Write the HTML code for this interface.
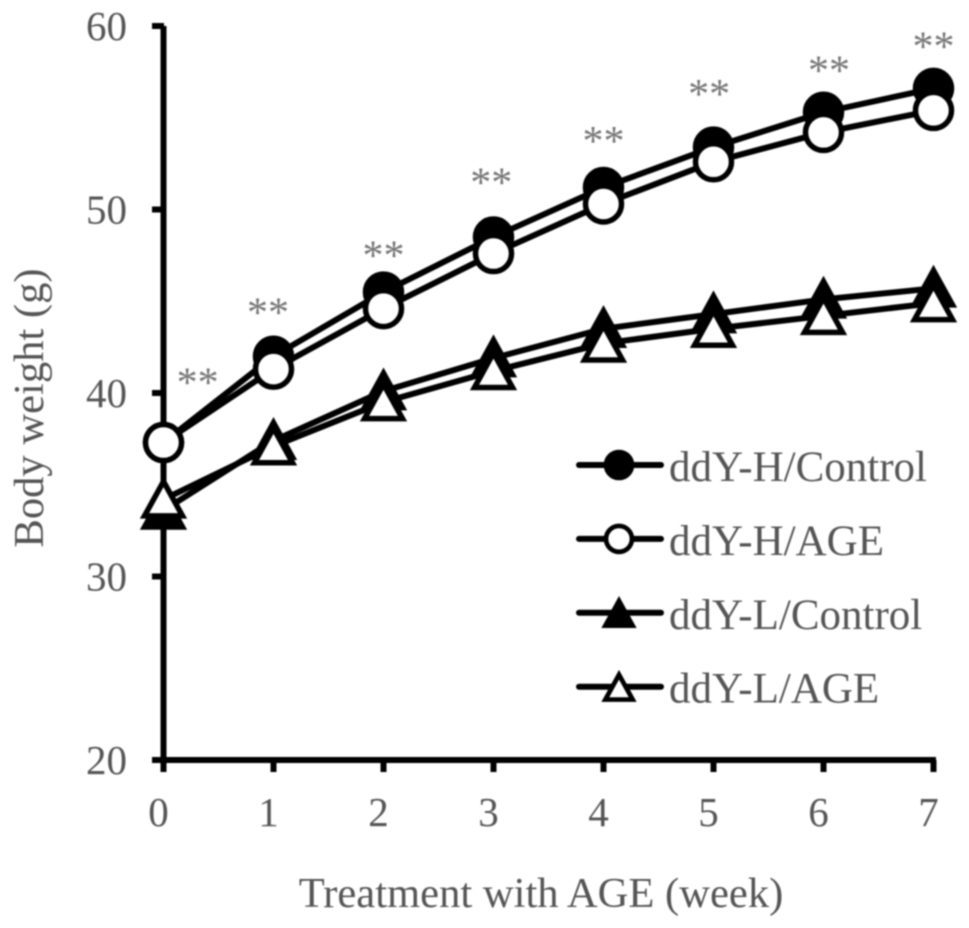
<!DOCTYPE html>
<html>
<head>
<meta charset="utf-8">
<title>Body weight chart</title>
<style>
html,body{margin:0;padding:0;background:#fff;width:969px;height:928px;overflow:hidden}
svg{display:block;filter:blur(0.8px)}
text{font-family:"Liberation Serif",serif;fill:#555}
</style>
</head>
<body>
<svg id="chart" xmlns="http://www.w3.org/2000/svg" width="969" height="928" viewBox="0 0 969 928"></svg>
<script>
var weeks = [0, 1, 2, 3, 4, 5, 6, 7];
var yTicks = [20, 30, 40, 50, 60];
var hControl = [37.3, 42.0, 45.5, 48.5, 51.2, 53.4, 55.3, 56.6];
var hAge = [37.3, 41.3, 44.6, 47.6, 50.3, 52.6, 54.2, 55.4];
var lControl = [33.6, 37.4, 40.1, 41.9, 43.5, 44.3, 45.1, 45.7];
var lAge = [34.2, 37.1, 39.5, 41.2, 42.7, 43.5, 44.2, 44.9];
var starWeeks = [0.31, 0.95, 2.0, 2.98, 4.0, 4.96, 6.05, 7.0];
var starLevels = [40.8, 44.6, 47.7, 51.7, 53.95, 56.5, 57.8, 59.1];
var seriesNames = ['ddY-H/Control', 'ddY-H/AGE', 'ddY-L/Control', 'ddY-L/AGE'];

var NS = 'http://www.w3.org/2000/svg';
var svg = document.getElementById('chart');
function xScale(w) { return 163.5 + w * 110; }
function yScale(v) { return 760 - (v - 20) * 18.35; }
function make(tag, attrs, text) {
  var el = document.createElementNS(NS, tag);
  for (var k in attrs) el.setAttribute(k, attrs[k]);
  if (text !== undefined) el.textContent = text;
  svg.appendChild(el);
  return el;
}
function marker(shape, filled, x, y, scale) {
  var fill = filled ? '#000' : '#fff';
  var sw = 5.5 * Math.max(scale, 0.85);
  var el;
  if (shape === 'circle') {
    el = make('circle', {cx: x, cy: y, r: 18 * scale, fill: fill, stroke: '#000', 'stroke-width': sw});
  } else {
    var pts = [[x, y - 18 * scale], [x - 19 * scale, y + 16.5 * scale], [x + 19 * scale, y + 16.5 * scale]];
    el = make('polygon', {points: pts.map(function (p) { return p.join(','); }).join(' '), fill: fill, stroke: '#000', 'stroke-width': sw, 'stroke-linejoin': 'miter'});
  }
  return el;
}

/* axes */
var yAxis = make('line', {x1: 163.5, y1: 26, x2: 163.5, y2: 771, stroke: '#000', 'stroke-width': 6});


var xAxis = make('line', {x1: 152, y1: 760, x2: 936, y2: 760, stroke: '#000', 'stroke-width': 6});



yTicks.forEach(function (t) {
  var y = yScale(t);
  var tick = make('line', {x1: 152, y1: y, x2: 164, y2: y, stroke: '#000', 'stroke-width': 6});
  
  
  var label = make('text', {x: 127, y: y + 14, 'text-anchor': 'end', 'font-size': 41}, String(t));
  
  
});
weeks.forEach(function (w) {
  var x = xScale(w);
  var tick = make('line', {x1: x, y1: 760, x2: x, y2: 772, stroke: '#000', 'stroke-width': 6});
  
  
  var label = make('text', {x: x - 5, y: 826, 'text-anchor': 'middle', 'font-size': 41}, String(w));
  
  
});

/* series */
var seriesList = [
  {key: 'h-control', values: hControl, shape: 'circle', filled: true},
  {key: 'l-control', values: lControl, shape: 'triangle', filled: true},
  {key: 'h-age', values: hAge, shape: 'circle', filled: false},
  {key: 'l-age', values: lAge, shape: 'triangle', filled: false}
];
seriesList.forEach(function (s) {
  var pts = s.values.map(function (v, i) { return xScale(weeks[i]) + ',' + yScale(v); }).join(' ');
  var line = make('polyline', {points: pts, fill: 'none', stroke: '#000', 'stroke-width': 6, 'stroke-linejoin': 'round'});
  
  
});
seriesList.forEach(function (s) {
  s.values.forEach(function (v, i) {
    var m = marker(s.shape, s.filled, xScale(weeks[i]), yScale(v), 1);
    
    
  });
});

/* significance stars */
starLevels.forEach(function (lvl, i) {
  var star = make('text', {x: xScale(starWeeks[i]), y: yScale(lvl) + 18, 'text-anchor': 'middle', 'font-size': 42}, '**');
  star.style.fill = '#777';
  
  
});

/* legend */
var legendShapes = [['circle', true], ['circle', false], ['triangle', true], ['triangle', false]];
seriesNames.forEach(function (name, i) {
  var y = 465 + i * 73.9;
  var ln = make('line', {x1: 579, y1: y, x2: 661, y2: y, stroke: '#000', 'stroke-width': 6, 'stroke-linecap': 'round'});
  
  
  var m = marker(legendShapes[i][0], legendShapes[i][1], 619, y + (legendShapes[i][0] === 'circle' ? 0 : 1), 0.72);
  
  
  var label = make('text', {x: 669, y: y + 16, 'font-size': 43}, name);
  
  
});

/* titles */
var xTitle = make('text', {x: 541, y: 907, 'text-anchor': 'middle', 'font-size': 42.6}, 'Treatment with AGE (week)');


var yTitle = make('text', {x: 0, y: 0, 'text-anchor': 'middle', 'font-size': 42.6, transform: 'translate(43,408) rotate(-90)'}, 'Body weight (g)');


</script>
</body>
</html>
